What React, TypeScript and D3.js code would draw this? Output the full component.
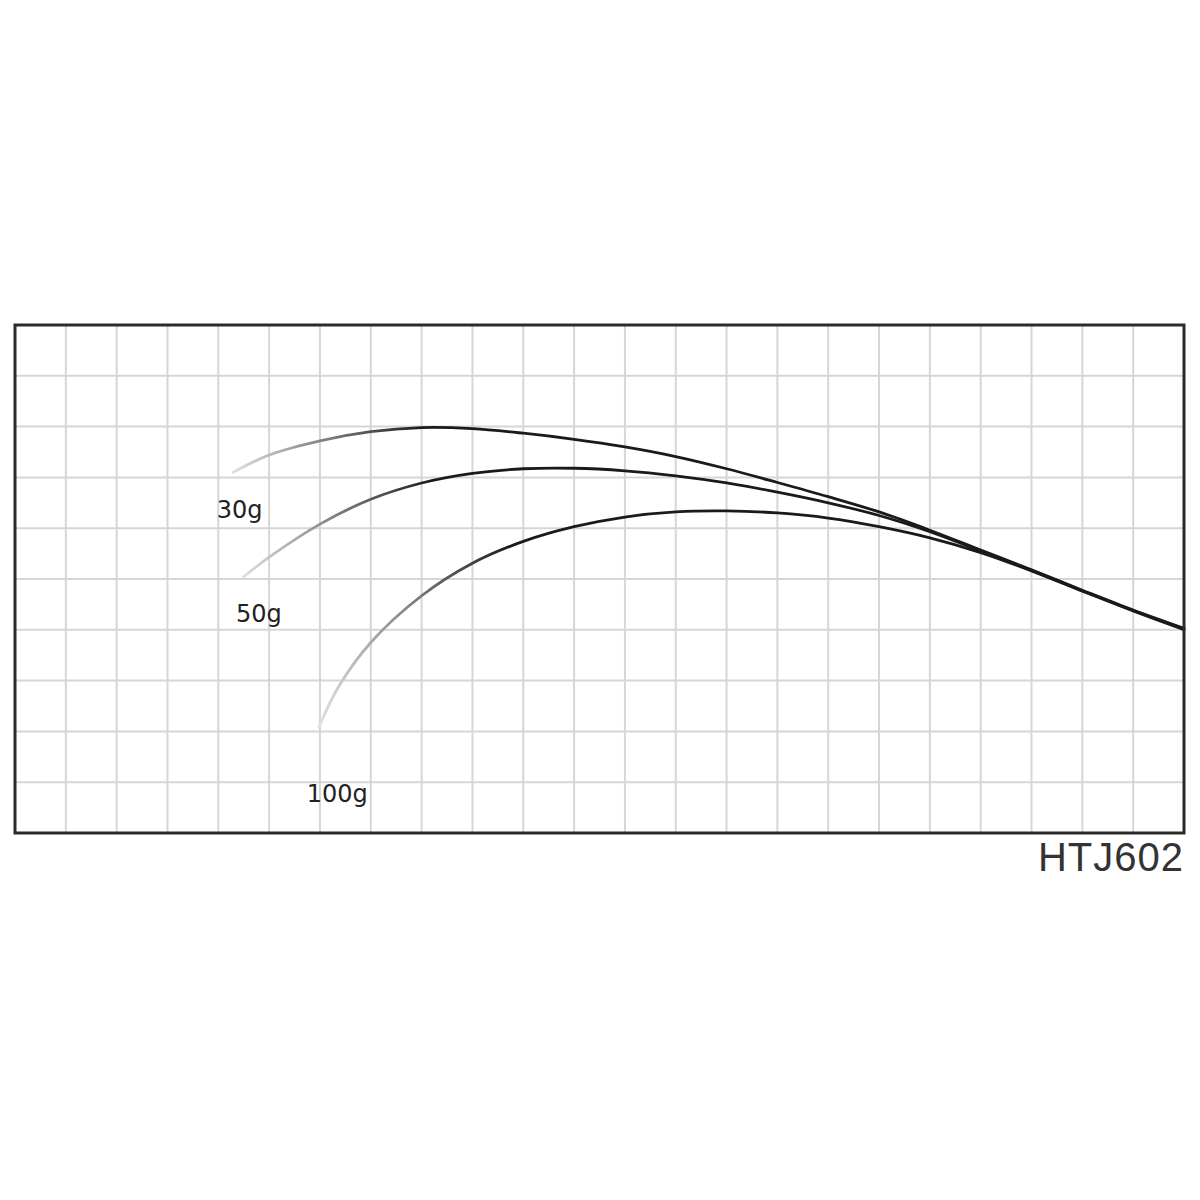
import React, { useEffect, useRef } from "react";
import * as d3 from "d3";

// grid is 23 columns x 10 rows, values are read in grid units
const COLUMNS = 23;
const ROWS = 10;

const SERIES_NAMES = ["30g", "50g", "100g"];

const X_30G = [4.29, 5, 6, 7, 8, 9, 10, 11, 12, 13, 14, 15, 16, 17, 18, 19, 20, 21, 22, 23];
const Y_30G = [7.1, 7.44, 7.72, 7.9, 7.98, 7.96, 7.87, 7.75, 7.6, 7.41, 7.17, 6.9, 6.62, 6.32, 5.96, 5.57, 5.18, 4.78, 4.39, 4.03];

const X_50G = [4.49, 5, 6, 7, 8, 9, 10, 11, 12, 13, 14, 15, 16, 17, 18, 19, 20, 21, 22, 23];
const Y_50G = [5.04, 5.43, 6.08, 6.57, 6.89, 7.08, 7.17, 7.18, 7.13, 7.03, 6.89, 6.71, 6.5, 6.25, 5.93, 5.55, 5.17, 4.77, 4.38, 4.02];

const X_100G = [5.98, 6.36, 7, 8, 9, 10, 11, 12, 13, 14, 15, 16, 17, 18, 19, 20, 21, 22, 23];
const Y_100G = [2.09, 2.87, 3.75, 4.67, 5.31, 5.74, 6.03, 6.22, 6.32, 6.34, 6.3, 6.2, 6.03, 5.81, 5.52, 5.16, 4.76, 4.37, 4.0];

// where each weight label sits (grid units, left edge / baseline)
const LABEL_X = [3.97, 4.35, 5.74];
const LABEL_Y = [6.2, 4.15, 0.61];

const MODEL_NAME = "HTJ602";

export default function App() {
  const svgRef = useRef<SVGSVGElement>(null);

  useEffect(() => {
    if (!svgRef.current) return;
    const svg = d3.select(svgRef.current);
    svg.selectAll("*").remove();

    const left = 15;
    const right = 1184;
    const top = 325;
    const bottom = 833;

    const x = d3.scaleLinear().domain([0, COLUMNS]).range([left, right]);
    const y = d3.scaleLinear().domain([0, ROWS]).range([bottom, top]);

    // grid
    const grid = svg.append("g").attr("stroke", "#d6d6d6").attr("stroke-width", 2);
    grid
      .selectAll("line.v")
      .data(d3.range(1, COLUMNS))
      .enter()
      .append("line")
      .attr("x1", (d) => x(d))
      .attr("x2", (d) => x(d))
      .attr("y1", top)
      .attr("y2", bottom);
    grid
      .selectAll("line.h")
      .data(d3.range(1, ROWS))
      .enter()
      .append("line")
      .attr("x1", left)
      .attr("x2", right)
      .attr("y1", (d) => y(d))
      .attr("y2", (d) => y(d));

    const series = [
      { name: SERIES_NAMES[0], xs: X_30G, ys: Y_30G },
      { name: SERIES_NAMES[1], xs: X_50G, ys: Y_50G },
      { name: SERIES_NAMES[2], xs: X_100G, ys: Y_100G },
    ];

    const defs = svg.append("defs");
    const line = d3
      .line<[number, number]>()
      .x((d) => x(d[0]))
      .y((d) => y(d[1]))
      .curve(d3.curveCatmullRom.alpha(0.5));

    series.forEach((s, i) => {
      // curves fade in from light grey at the tip to near black
      const startX = x(s.xs[0]);
      const grad = defs
        .append("linearGradient")
        .attr("id", `fade${i}`)
        .attr("gradientUnits", "userSpaceOnUse")
        .attr("x1", startX)
        .attr("x2", startX + 190)
        .attr("y1", 0)
        .attr("y2", 0);
      grad.append("stop").attr("offset", "0%").attr("stop-color", "#e0e0e0");
      grad.append("stop").attr("offset", "100%").attr("stop-color", "#1a1a1a");

      const pts: [number, number][] = s.xs.map((v, j) => [v, s.ys[j]]);
      svg
        .append("path")
        .attr("d", line(pts))
        .attr("fill", "none")
        .attr("stroke", `url(#fade${i})`)
        .attr("stroke-width", 2.8)
        .attr("stroke-linecap", "round");

      svg
        .append("text")
        .attr("x", x(LABEL_X[i]))
        .attr("y", y(LABEL_Y[i]))
        .style("font-family", "DejaVu Sans")
        .style("font-size", "24px")
        .style("font-weight", "500")
        .style("fill", "#222")
        .text(s.name);
    });

    // frame
    svg
      .append("rect")
      .attr("x", left)
      .attr("y", top)
      .attr("width", right - left)
      .attr("height", bottom - top)
      .attr("fill", "none")
      .attr("stroke", "#2b2b2b")
      .attr("stroke-width", 3);

    svg
      .append("text")
      .attr("x", right)
      .attr("y", 871)
      .attr("text-anchor", "end")
      .style("font-family", "Liberation Sans")
      .style("font-size", "40px")
      .style("letter-spacing", "1px")
      .style("fill", "#333")
      .text(MODEL_NAME);
  }, []);

  return (
    <div style={{ position: "absolute", left: 0, top: 0, width: 1200, height: 1200, background: "#fff" }}>
      <svg ref={svgRef} width={1200} height={1200} style={{ display: "block" }}></svg>
    </div>
  );
}
